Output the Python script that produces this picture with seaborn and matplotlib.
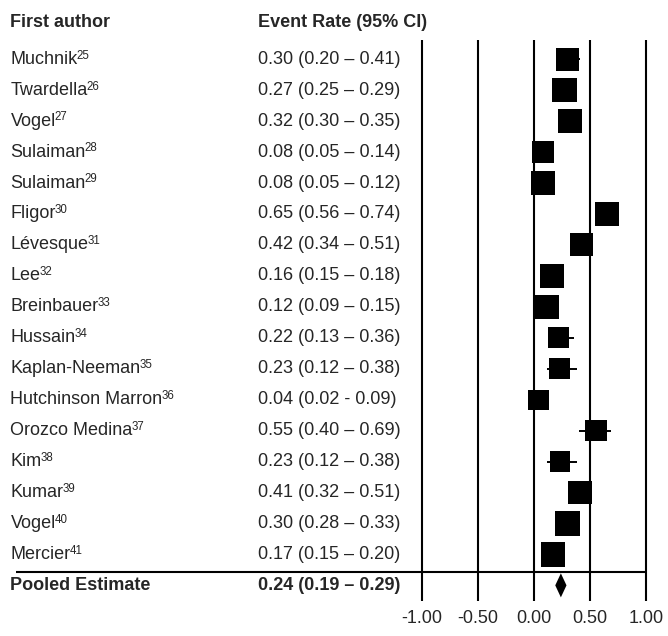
import numpy as np
import pandas as pd
import matplotlib
matplotlib.use("Agg")
import matplotlib.pyplot as plt
import seaborn as sns

# ---------------- data ----------------
authors = ["Muchnik", "Twardella", "Vogel", "Sulaiman", "Sulaiman", "Fligor",
           "Lévesque", "Lee", "Breinbauer", "Hussain", "Kaplan-Neeman",
           "Hutchinson Marron", "Orozco Medina", "Kim", "Kumar", "Vogel", "Mercier"]
refs = ["25", "26", "27", "28", "29", "30", "31", "32", "33", "34", "35",
        "36", "37", "38", "39", "40", "41"]
estimate = [0.30, 0.27, 0.32, 0.08, 0.08, 0.65, 0.42, 0.16, 0.12, 0.22, 0.23,
            0.04, 0.55, 0.23, 0.41, 0.30, 0.17]
ci_low = [0.20, 0.25, 0.30, 0.05, 0.05, 0.56, 0.34, 0.15, 0.09, 0.13, 0.12,
          0.02, 0.40, 0.12, 0.32, 0.28, 0.15]
ci_high = [0.41, 0.29, 0.35, 0.14, 0.12, 0.74, 0.51, 0.18, 0.15, 0.36, 0.38,
           0.09, 0.69, 0.38, 0.51, 0.33, 0.20]
weights = [5.81, 6.88, 6.66, 5.31, 6.13, 6.13, 5.97, 6.50, 6.50, 4.98, 4.84,
           4.65, 5.31, 4.65, 6.13, 6.66, 6.88]
ci_dash = ["–", "–", "–", "–", "–", "–", "–", "–", "–", "–", "–",
           "-", "–", "–", "–", "–", "–"]
pooled_label = "Pooled Estimate"
pooled_est = 0.24
pooled_low = 0.19
pooled_high = 0.29
axis_ticks = [-1.00, -0.50, 0.00, 0.50, 1.00]
header_author = "First author"
header_rate = "Event Rate (95% CI)"

# ---------------- style ----------------
sns.set_style("white")
plt.rcParams["font.family"] = ["Liberation Sans", "DejaVu Sans"]
FS = 13

W, H = 668, 636
fig = plt.figure(figsize=(W / 100, H / 100), dpi=100)
ax = fig.add_axes([0, 0, 1, 1])

n = len(authors)
df = pd.DataFrame({
    "estimate": estimate,
    "low": ci_low,
    "high": ci_high,
    "weight": weights,
    "row": np.arange(n),
})

# CI whiskers
ax.hlines(df["row"], df["low"], df["high"], color="black", lw=1.4, zorder=2)

# weighted squares
sns.scatterplot(data=df, x="estimate", y="row", size="weight",
                sizes=(0, 4594), size_norm=(0, 100), marker="s",
                color="black", linewidth=0, legend=False, ax=ax, zorder=3)

# pooled diamond
prow = n
h = 0.388
ax.fill([pooled_low, pooled_est, pooled_high, pooled_est],
        [prow, prow - h, prow, prow + h], color="black", lw=0, zorder=3)

# reference vertical lines
ax.vlines(axis_ticks, -0.62, 17.51, color="black", lw=1.5, zorder=1)

# layout mapping (pixels -> data)
px_per_unit = 112.4
x_left = -1 - 421.5 / px_per_unit
x_right = 1 + (W - 646.3) / px_per_unit
row0_px, row_step = 59.2, 30.95
y_top = -row0_px / row_step
y_bot = (H - row0_px) / row_step
ax.set_xlim(x_left, x_right)
ax.set_ylim(y_bot, y_top)

# separator line
ax.hlines(16.57, x_left + 16 / px_per_unit, axis_ticks[-1], color="black", lw=1.5)

trans = ax.get_yaxis_transform()
xa = 10.5 / W
xr = 258.3 / W

# headers
ax.text(xa, -1.2, header_author, transform=trans, fontsize=FS,
        fontweight="bold", ha="left", va="center")
ax.text(xr, -1.2, header_rate, transform=trans, fontsize=FS,
        fontweight="bold", ha="left", va="center")

# study rows
for i in range(n):
    t = ax.text(xa, i, authors[i], transform=trans, fontsize=FS,
                ha="left", va="center")
    ax.annotate(refs[i], xy=(1, 0.5), xycoords=t, xytext=(-0.9, 2.6),
                textcoords="offset points", fontsize=8.3, ha="left", va="center")
    label = f"{estimate[i]:.2f} ({ci_low[i]:.2f} {ci_dash[i]} {ci_high[i]:.2f})"
    ax.text(xr, i, label, transform=trans, fontsize=FS, ha="left", va="center")

# pooled row
ax.text(xa, prow, pooled_label, transform=trans, fontsize=FS,
        fontweight="bold", ha="left", va="center")
ax.text(xr, prow, f"{pooled_est:.2f} ({pooled_low:.2f} – {pooled_high:.2f})",
        transform=trans, fontsize=FS, fontweight="bold", ha="left", va="center")

# tick labels
for tk in axis_ticks:
    ax.text(tk, 18.07, f"{tk:.2f}", fontsize=FS, ha="center", va="center")

ax.set_axis_off()
fig.savefig("out.png", dpi=100)
